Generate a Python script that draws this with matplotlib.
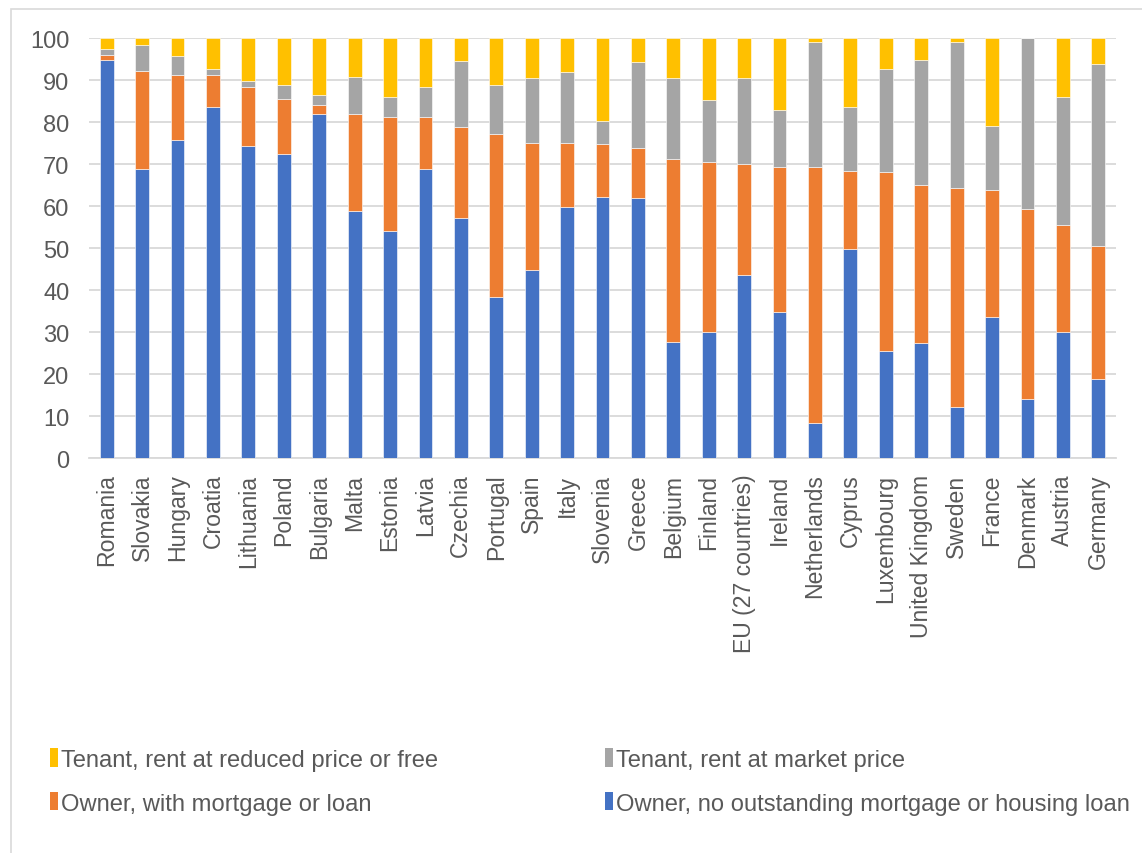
import numpy as np
import matplotlib
matplotlib.use("Agg")
import matplotlib.pyplot as plt
from matplotlib.patches import Rectangle, Patch

plt.rcParams['font.family'] = ['Liberation Sans', 'DejaVu Sans']

# Countries, left to right
countries = ['Romania', 'Slovakia', 'Hungary', 'Croatia', 'Lithuania', 'Poland',
             'Bulgaria', 'Malta', 'Estonia', 'Latvia', 'Czechia', 'Portugal',
             'Spain', 'Italy', 'Slovenia', 'Greece', 'Belgium', 'Finland',
             'EU (27 countries)', 'Ireland', 'Netherlands', 'Cyprus',
             'Luxembourg', 'United Kingdom', 'Sweden', 'France', 'Denmark',
             'Austria', 'Germany']

# Shares (%), stacked bottom to top
owner_no_loan = [94.8, 68.9, 75.8, 83.7, 74.4, 72.5, 81.9, 58.8, 54.1, 68.8,
                 57.1, 38.4, 44.7, 59.9, 62.1, 61.9, 27.6, 30.0, 43.5, 34.7,
                 8.3, 49.9, 25.6, 27.5, 12.1, 33.5, 14.0, 30.0, 18.9]
owner_mortgage = [1.2, 23.3, 15.4, 7.5, 14.0, 13.1, 2.2, 23.1, 27.2, 12.3,
                  21.8, 38.8, 30.4, 15.2, 12.6, 11.9, 43.5, 40.6, 26.5, 34.5,
                  60.9, 18.5, 42.6, 37.5, 52.2, 30.4, 45.2, 25.4, 31.5]
tenant_market = [1.3, 6.2, 4.4, 1.5, 1.3, 3.3, 2.4, 8.9, 4.7, 7.2,
                 15.7, 11.5, 15.3, 16.7, 5.6, 20.6, 19.5, 14.6, 20.4, 13.6,
                 29.9, 15.2, 24.5, 29.7, 34.8, 15.1, 40.7, 30.6, 43.3]
tenant_reduced = [2.7, 1.6, 4.4, 7.3, 10.3, 11.1, 13.5, 9.2, 14.0, 11.7,
                  5.4, 11.3, 9.6, 8.2, 19.7, 5.6, 9.4, 14.8, 9.6, 17.2,
                  0.9, 16.4, 7.3, 5.3, 0.9, 21.0, 0.1, 14.0, 6.3]

series = [
    ('Owner, no outstanding mortgage or housing loan', owner_no_loan, '#4472C4'),
    ('Owner, with mortgage or loan', owner_mortgage, '#ED7D31'),
    ('Tenant, rent at market price', tenant_market, '#A5A5A5'),
    ('Tenant, rent at reduced price or free', tenant_reduced, '#FFC000'),
]

fig = plt.figure(figsize=(11.42, 8.54), dpi=100)
ax = fig.add_axes([89 / 1142, 1 - 459.3 / 854, (1116 - 89) / 1142, 420.3 / 854])

x = np.arange(len(countries))
bottom = np.zeros(len(countries))
handles = {}
for name, vals, color in series:
    vals = np.array(vals)
    ax.bar(x, vals, 0.39, bottom=bottom, color=color, edgecolor='white',
           linewidth=0.4, zorder=3)
    bottom += vals
    handles[name] = Patch(facecolor=color, label=name)

ax.set_xlim(-0.5, len(countries) - 0.5)
ax.set_ylim(0, 100)
ax.set_yticks(range(0, 101, 10))
ax.yaxis.grid(True, color='#D9D9D9', linewidth=1.3, zorder=0)
for s in ['top', 'right', 'left']:
    ax.spines[s].set_visible(False)
ax.spines['bottom'].set_color('#D9D9D9')
ax.spines['bottom'].set_linewidth(1.3)
ax.set_xticks(x)
ax.set_xticklabels(countries, rotation=90)
ax.tick_params(axis='both', length=0, labelsize=17, labelcolor='#595959')
ax.tick_params(axis='x', pad=11, labelsize=16.6)
ax.tick_params(axis='y', pad=14)

# legend: row-major order like the original
order = ['Tenant, rent at reduced price or free', 'Owner, with mortgage or loan',
         'Tenant, rent at market price', 'Owner, no outstanding mortgage or housing loan']
leg = fig.legend([handles[k] for k in order], order, ncol=2, loc='upper left',
                 bbox_to_anchor=(40 / 1142, 1 - 740 / 854), frameon=False,
                 fontsize=17.1, labelcolor='#595959', handlelength=0.35,
                 handleheight=0.8, handletextpad=0.12, columnspacing=7.05,
                 labelspacing=0.9, borderaxespad=0)

# outer chart border
fig.patches.append(Rectangle((11 / 1142, -0.05), 1.1, 1.05 - 10 / 854,
                             transform=fig.transFigure, fill=False,
                             edgecolor='#D9D9D9', linewidth=1.2))

fig.savefig('out.png', dpi=100)
